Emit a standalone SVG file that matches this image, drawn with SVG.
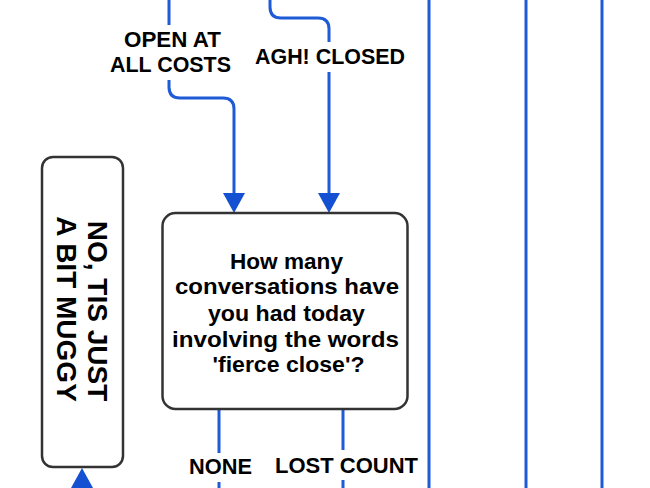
<svg xmlns="http://www.w3.org/2000/svg" width="650" height="488" viewBox="0 0 650 488">
  <defs>
    <style>
      .conn { fill: none; stroke: #1f5bd6; stroke-width: 3; }
      .box { fill: #ffffff; stroke: #333333; stroke-width: 2.5; }
      .t { font-family: "Liberation Sans", Arial, sans-serif; font-weight: bold; fill: #000000; }
      .lbl { font-size: 18px; text-anchor: middle; }
      .q { font-size: 18px; text-anchor: middle; }
      .v { font-size: 28px; text-anchor: middle; }
    </style>
    <marker id="arr" viewBox="0 0 20 22" refX="1" refY="11" markerWidth="20" markerHeight="22" markerUnits="userSpaceOnUse" orient="auto">
      <path d="M0,0 L20,11 L0,22 Z" fill="#1451d2"/>
    </marker>
  </defs>
  <rect width="650" height="488" fill="#ffffff"/>

  <g id="connectors">
    <path class="conn" d="M429,0 V488"/>
    <path class="conn" d="M526,0 V488"/>
    <path class="conn" d="M602,0 V488"/>
    <path class="conn" d="M169,0 V25"/>
    <path class="conn" d="M169,80 V87 Q169,98 180,98 H223 Q234,98 234,109 V194" marker-end="url(#arr)"/>
    <path class="conn" d="M270,0 V7 Q270,18 281,18 H318 Q329,18 329,29 V42"/>
    <path class="conn" d="M329,72 V194" marker-end="url(#arr)"/>
    <path class="conn" d="M219,409 V453"/>
    <path class="conn" d="M219,482 V488"/>
    <path class="conn" d="M343,409 V450"/>
    <path class="conn" d="M343,480 V488"/>
    <path class="conn" d="M82,490 V487" marker-end="url(#arr)"/>
  </g>

  <g id="labels">
    <g transform="scale(1,1.2)">
      <text class="t lbl" x="172.5" y="39.2" textLength="97" lengthAdjust="spacingAndGlyphs">OPEN AT</text>
      <text class="t lbl" x="170.5" y="60" textLength="121" lengthAdjust="spacingAndGlyphs">ALL COSTS</text>
      <text class="t lbl" x="330" y="53.3" textLength="150" lengthAdjust="spacingAndGlyphs">AGH! CLOSED</text>
      <text class="t lbl" x="220.5" y="395" textLength="63" lengthAdjust="spacingAndGlyphs">NONE</text>
      <text class="t lbl" x="346.5" y="394.2" textLength="143" lengthAdjust="spacingAndGlyphs">LOST COUNT</text>
    </g>
  </g>

  <g id="node-muggy">
    <rect class="box" x="42" y="157" width="81" height="310" rx="11" ry="11"/>
    <text class="t v" transform="translate(88,311) rotate(90)">NO, TIS JUST</text>
    <text class="t v" transform="translate(57,309) rotate(90)">A BIT MUGGY</text>
  </g>

  <g id="node-question">
    <rect class="box" x="162.5" y="213" width="245" height="196" rx="13" ry="13"/>
    <g transform="scale(1,1.2)">
      <text class="t q" x="286.5" y="224.2" textLength="113" lengthAdjust="spacingAndGlyphs">How many</text>
      <text class="t q" x="287" y="245" textLength="224" lengthAdjust="spacingAndGlyphs">conversations have</text>
      <text class="t q" x="286.5" y="267.5" textLength="157" lengthAdjust="spacingAndGlyphs">you had today</text>
      <text class="t q" x="285.5" y="289.2" textLength="227" lengthAdjust="spacingAndGlyphs">involving the words</text>
      <text class="t q" x="288.5" y="310" textLength="152" lengthAdjust="spacingAndGlyphs">'fierce close'?</text>
    </g>
  </g>
</svg>
